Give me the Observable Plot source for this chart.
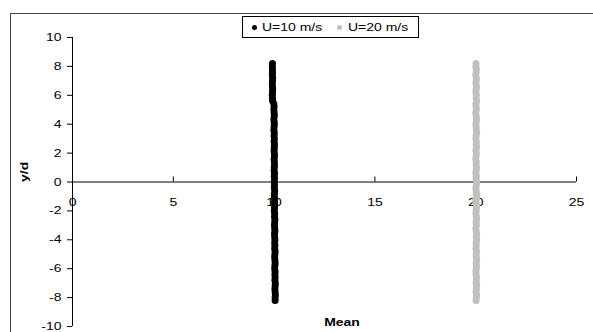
<!DOCTYPE html>
<html>
<head>
<meta charset="utf-8">
<script src="https://cdn.jsdelivr.net/npm/d3@7"></script>
<script src="https://cdn.jsdelivr.net/npm/@observablehq/plot@0.6"></script>
<style>
  html, body { margin: 0; padding: 0; background: #fff; overflow: hidden; }
  #wrap { position: relative; width: 593px; height: 332px; overflow: hidden; font-family: "Liberation Sans", Arial, sans-serif; }
  #border { position: absolute; left: 10px; top: 13px; width: 700px; height: 500px; border: 1px solid #444; box-sizing: border-box; }
  #chart { position: absolute; left: 0; top: 0; }
  #legend { position: absolute; left: 242px; top: 16px; width: 177px; height: 22px; border: 1px solid #000; box-sizing: border-box; background: #fff; font-size: 11px; color: #000; }
  .item { position: absolute; top: 4px; white-space: nowrap; line-height: 13px; transform: scaleX(1.27); transform-origin: left center; }
  .dot { position: absolute; width: 5px; height: 5px; border-radius: 50%; top: 8px; }
</style>
</head>
<body>
<div id="wrap">
  <div id="border"></div>
  <div id="chart"></div>
  <div id="legend"></div>
</div>
<script>
// Series names and colours
const seriesNames = ["U=10 m/s", "U=20 m/s"];
const seriesColors = ["#000000", "#c0c0c0"];

// y/d positions (shared by both series)
const yd = [8.2,8.0,7.8,7.6,7.4,7.2,7.0,6.8,6.6,6.4,6.2,6.0,5.8,5.6,5.4,5.2,5.0,4.8,4.6,4.4,4.2,4.0,3.8,3.6,3.4,3.2,3.0,2.8,2.6,2.4,2.2,2.0,1.8,1.6,1.4,1.2,1.0,0.8,0.6,0.4,0.2,0.0,
  -0.2,-0.4,-0.6,-0.8,-1.0,-1.2,-1.4,-1.6,-1.8,-2.0,-2.2,-2.4,-2.6,-2.8,-3.0,-3.2,-3.4,-3.6,-3.8,-4.0,-4.2,-4.4,-4.6,-4.8,-5.0,-5.2,-5.4,-5.6,-5.8,-6.0,-6.2,-6.4,-6.6,-6.8,-7.0,-7.2,-7.4,-7.6,-7.8,-8.0,-8.2];

// Mean values, U=10 m/s
const mean10 = [9.92,9.91,9.92,9.92,9.91,9.93,9.92,9.91,9.92,9.93,9.92,9.91,9.92,9.93,
  9.99,10.00,9.99,10.00,10.01,9.99,10.00,10.01,10.00,9.99,
  10.01,10.00,10.01,10.00,10.02,10.01,10.00,10.01,10.02,10.00,
  10.01,10.02,10.01,10.00,10.02,10.01,10.02,10.01,
  10.02,10.01,10.03,10.02,10.01,10.03,10.02,10.03,10.02,10.01,
  10.03,10.02,10.04,10.03,10.02,10.03,10.04,10.02,10.03,10.04,
  10.03,10.04,10.03,10.05,10.04,10.03,10.04,10.05,10.04,10.03,
  10.05,10.04,10.05,10.04,10.06,10.05,10.04,10.05,10.06,10.05,
  10.05];

// Mean values, U=20 m/s
const mean20 = [20.02,20.01,20.03,20.02,20.00,20.03,20.02,20.01,20.04,20.02,
  20.01,20.03,20.02,20.04,20.01,20.02,20.03,20.00,20.02,20.04,
  20.03,20.01,20.02,20.03,20.05,20.02,20.01,20.03,20.02,20.04,
  20.01,20.03,20.02,20.00,20.03,20.02,20.04,20.02,20.01,20.03,
  20.02,20.04,20.03,20.01,20.02,20.03,20.05,20.02,20.01,20.04,
  20.03,20.02,20.01,20.03,20.04,20.02,20.03,20.01,20.02,20.04,
  20.03,20.05,20.02,20.03,20.01,20.04,20.02,20.03,20.05,20.02,
  20.04,20.03,20.01,20.02,20.04,20.03,20.02,20.05,20.03,20.02,
  20.04,20.03,20.02];

// Tick values
const xTicks = [0, 5, 10, 15, 20, 25];
const yTicks = [-10, -8, -6, -4, -2, 0, 2, 4, 6, 8, 10];

const pts10 = yd.map((y, i) => ({x: mean10[i], y}));
const pts20 = yd.map((y, i) => ({x: mean20[i], y}));

const font = '"Liberation Sans", Arial, sans-serif';

const chart = Plot.plot({
  width: 593,
  height: 332,
  marginLeft: 72,
  marginRight: 17,
  marginTop: 37,
  marginBottom: 6,
  style: {fontFamily: font, fontSize: "11px", color: "#000", background: "transparent", overflow: "visible"},
  x: {domain: [0, 25], axis: null},
  y: {domain: [-10, 10], axis: null},
  marks: [
    Plot.axisY(yTicks, {tickSize: 5, tickPadding: 6, tickFormat: d => String(d), label: null, stroke: "#000", fontSize: 11}),
    Plot.ruleX([0], {y1: -10, y2: 10, stroke: "#000", strokeWidth: 1}),
    Plot.ruleY([0], {x1: 0, x2: 25, stroke: "#000", strokeWidth: 1}),
    Plot.ruleX(xTicks.filter(d => d !== 0), {x: d => d, y1: 0, y2: 0, insetTop: -5, stroke: "#000"}),
    Plot.text(xTicks, {x: d => d, y: 0, dy: 20, text: d => String(d), fontSize: 11, fill: "#000"}),
    Plot.dot(pts10, {x: "x", y: "y", r: 3.5, fill: seriesColors[0], stroke: null}),
    Plot.dot(pts20, {x: "x", y: "y", r: 3.5, fill: seriesColors[1], stroke: null}),
    Plot.text(["y/d"], {frameAnchor: "left", dx: -48, rotate: -90, fontWeight: "bold", fontSize: 11, fill: "#000"}),
    Plot.text(["Mean"], {frameAnchor: "bottom", dx: 17.5, dy: -1, fontWeight: "bold", fontSize: 11, fill: "#000"})
  ]
});
document.getElementById("chart").appendChild(chart);

// The reference's lettering is horizontally stretched; widen every label in place.
chart.querySelectorAll("text").forEach(t => {
  const w = t.getComputedTextLength();
  if (w > 0) {
    t.setAttribute("textLength", (w * 1.27).toFixed(2));
    t.setAttribute("lengthAdjust", "spacingAndGlyphs");
  }
});

// Legend overlay
const legend = document.getElementById("legend");
const dotX = [11, 96];
const textX = [19, 105];
seriesNames.forEach((name, i) => {
  const dot = document.createElement("div");
  dot.className = "dot";
  dot.style.left = (dotX[i] - 2.5) + "px";
  dot.style.background = seriesColors[i];
  legend.appendChild(dot);
  const t = document.createElement("div");
  t.className = "item";
  t.style.left = textX[i] + "px";
  t.textContent = name;
  legend.appendChild(t);
});
</script>
</body>
</html>
